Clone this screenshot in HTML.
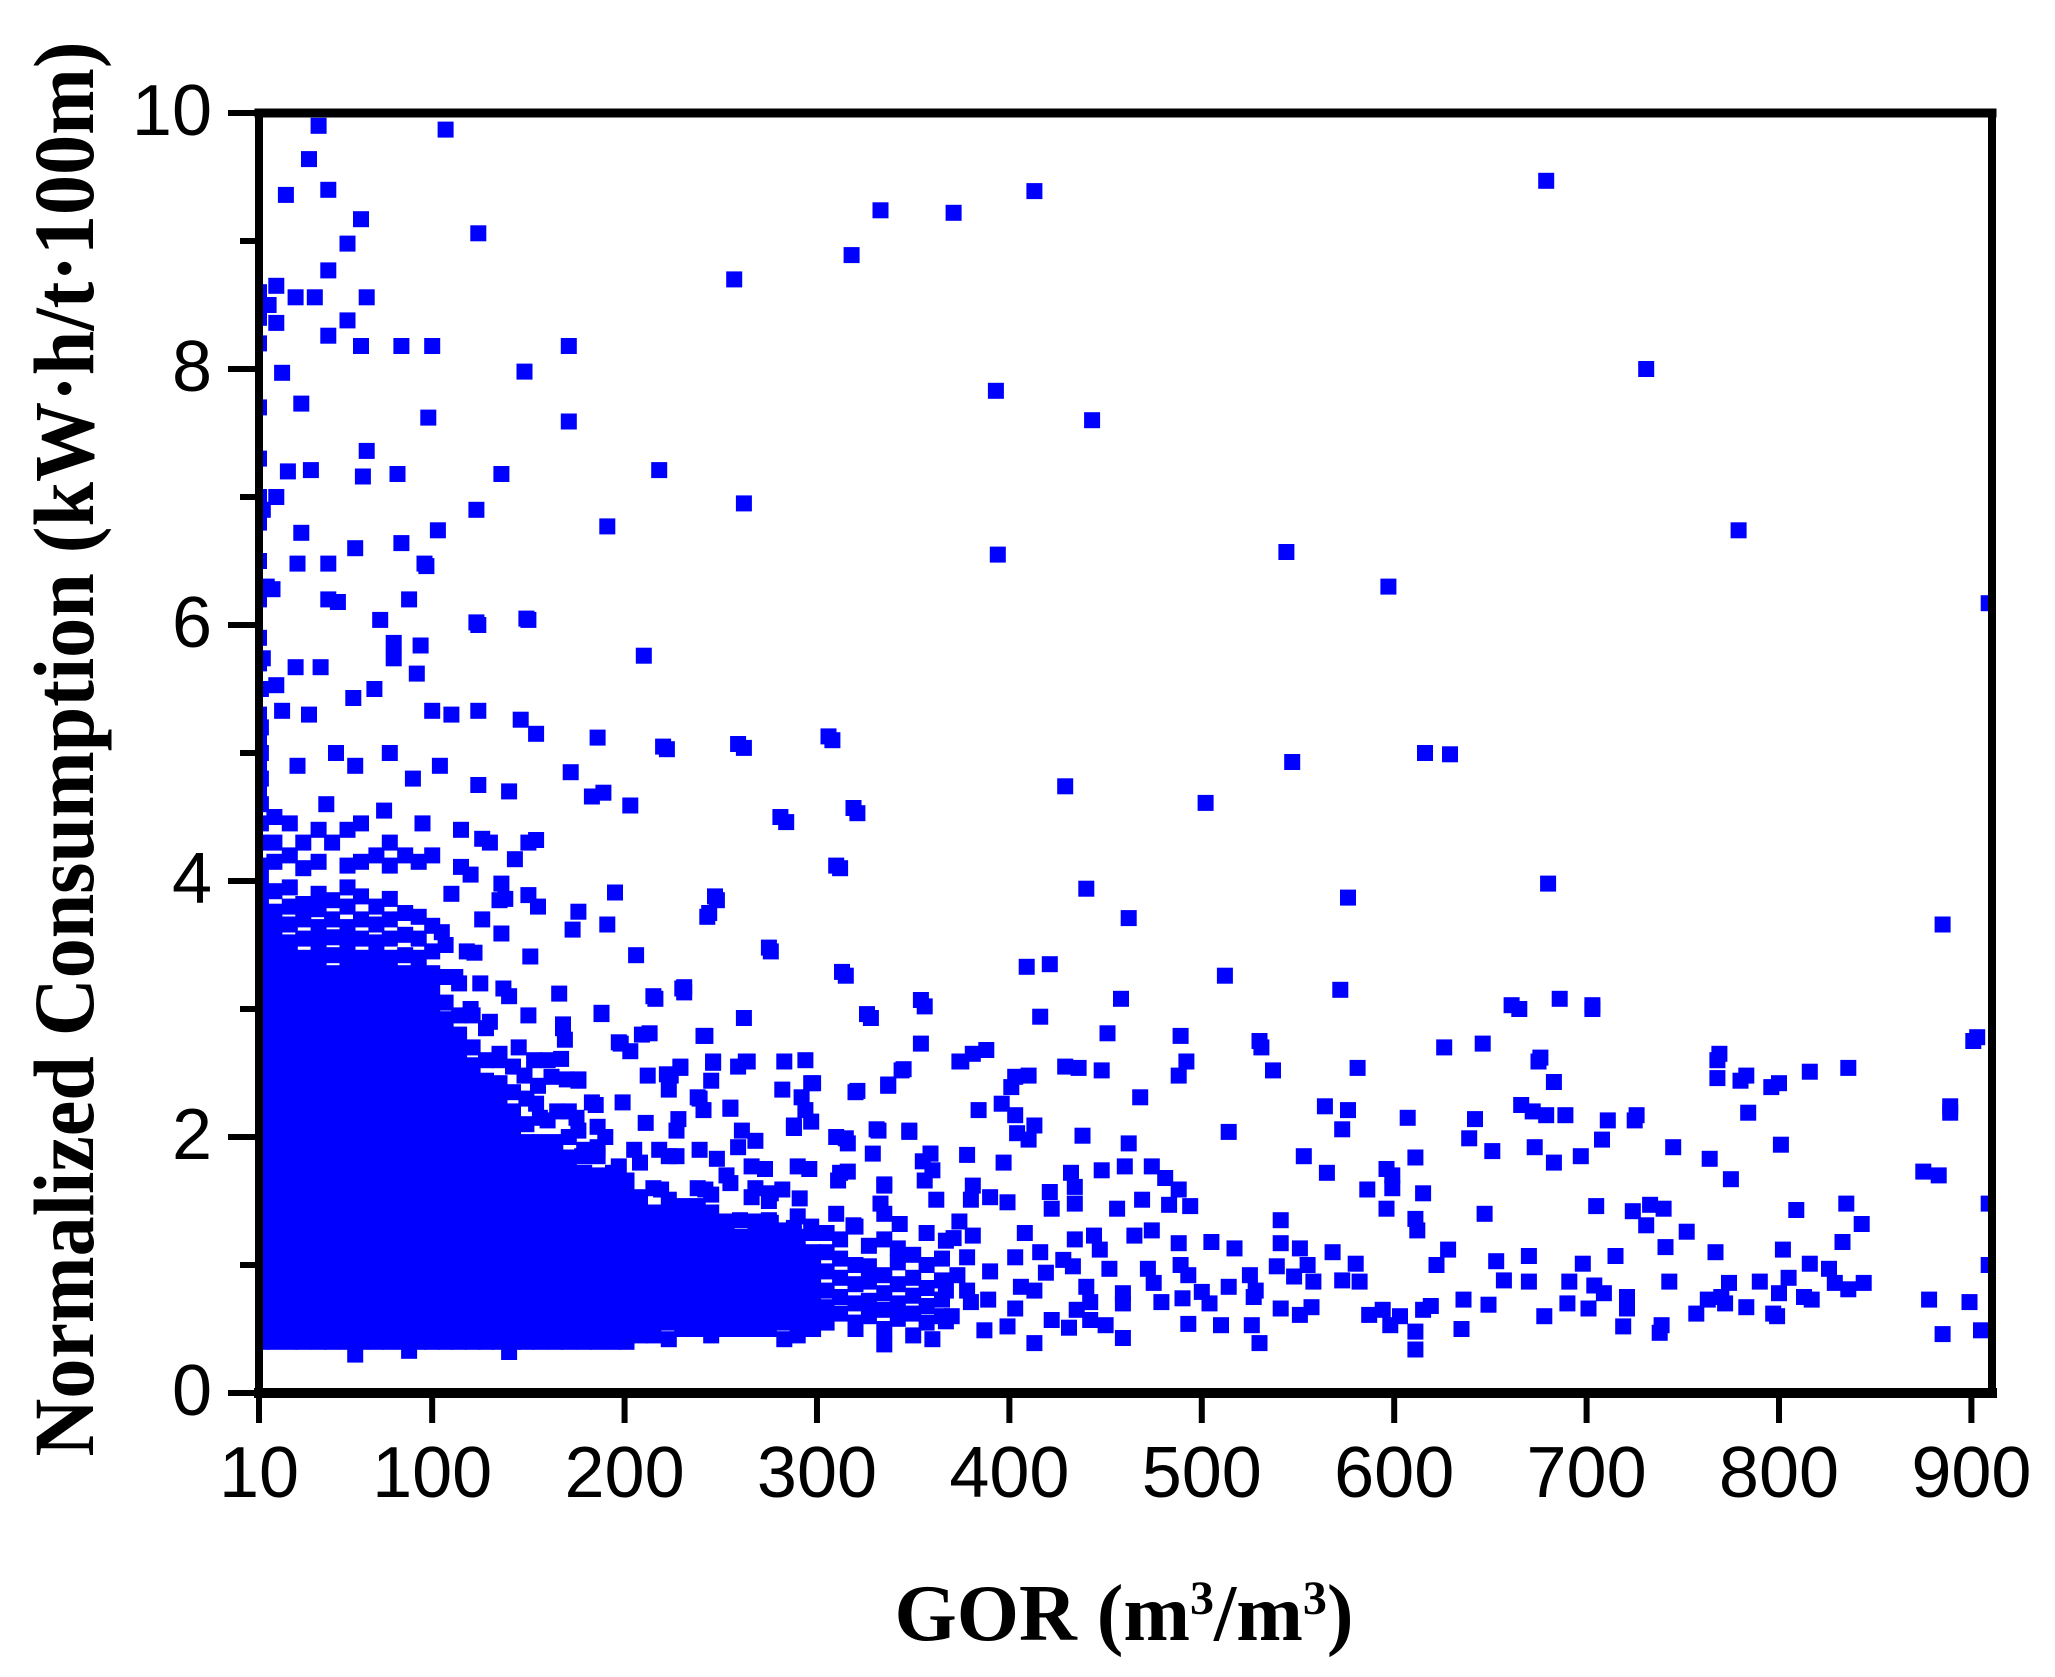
<!DOCTYPE html>
<html><head><meta charset="utf-8"><style>
html,body{margin:0;padding:0;background:#fff;}
svg{display:block;}
</style></head><body>
<svg id="chart" width="2055" height="1677" viewBox="0 0 2055 1677" xmlns="http://www.w3.org/2000/svg">
<defs><clipPath id="plotClip"><rect x="259" y="113" width="1733" height="1280"/></clipPath></defs>
<rect width="2055" height="1677" fill="#fff"/>
<g id="points" clip-path="url(#plotClip)"></g>
<g id="axes"></g>
<text x="1124" y="1640" text-anchor="middle" font-family="'Liberation Serif', serif" font-weight="bold" font-size="80">GOR (m<tspan baseline-shift="super" font-size="48">3</tspan>/m<tspan baseline-shift="super" font-size="48">3</tspan>)</text>
<text transform="translate(93,749) rotate(-90)" text-anchor="middle" font-family="'Liberation Serif', serif" font-weight="bold" font-size="86" textLength="1415" lengthAdjust="spacingAndGlyphs">Normalized Consumption (kW·h/t·100m)</text>
</svg>
<script>
const xTicks = [10,100,200,300,400,500,600,700,800,900];
const yTicks = [0,2,4,6,8,10];
const yMinorTicks = [1,3,5,7,9];

const coreRun = [0.4,0.52,0.64,0.76,0.88,1,1.12,1.24,1.36,1.48,1.6,1.72,1.84,1.96,2.08,2.2,2.32,2.44,2.56,2.68,2.8,2.92,3.04,3.16,3.28];
const lowRun = [0.4,0.52,0.64,0.76,0.88,1,1.12,1.24,1.36,1.48,1.6];

const coreGor = [11,18,26,33,41,48,56,63,71,78,86,93,100];
const coreExtra = [
[3.4,3.52,3.64,3.76,3.88,4,4.12,4.3,4.45,4.6,4.8,5,5.2,5.5],
[3.4,3.52,3.64,3.76,3.92,4.15,4.3,4.5],
[3.4,3.52,3.66,3.8,3.95,4.2,4.45],
[3.4,3.55,3.7,3.82,4.1,4.3],
[3.4,3.52,3.64,3.78,3.9,4.15,4.4],
[3.42,3.56,3.7,3.85,4.3],
[3.4,3.52,3.64,3.8,3.95,4.12,4.4],
[3.4,3.55,3.7,3.88,4.15,4.45],
[3.4,3.52,3.66,3.8,4.2],
[3.4,3.55,3.7,3.86,4.12,4.3],
[3.42,3.58,3.75,4.2],
[3.4,3.55,3.72,4.15],
[3.45,3.65]
];

const midGor = [107,114,121,128,135,142];
const midCons = [
[1.72,1.84,1.96,2.08,2.2,2.32,2.44,2.56,2.68,2.8,2.92,3.05,3.25,3.5],
[1.72,1.84,1.96,2.08,2.2,2.32,2.44,2.56,2.68,2.8,2.95,3.2],
[1.72,1.84,1.96,2.08,2.2,2.32,2.44,2.56,2.7,2.95],
[1.72,1.84,1.96,2.08,2.2,2.32,2.44,2.6,2.85],
[1.72,1.84,1.96,2.08,2.2,2.32,2.42,2.65],
[1.72,1.84,1.96,2.08,2.2,2.35,2.55]
];

const lowGor = [149,156,164,171,179,186,194,201];
const lowExtra = [
[1.72,1.84,1.96,2.1,2.3],
[1.72,1.84,1.96,2.15],
[1.72,1.84,1.96],
[1.72,1.84,2.0,2.2],
[1.72,1.9],
[1.7,1.85],
[1.72],
[1.66]
];

const bandGor = [208,215,223,230,238,245,253,260,268,275,283,290,298];
const bandCons = [
[0.45,0.57,0.69,0.81,0.93,1.05,1.17,1.29,1.41,1.53,1.8],
[0.45,0.57,0.69,0.81,0.93,1.05,1.17,1.29,1.41,1.6],
[0.42,0.55,0.67,0.79,0.91,1.03,1.15,1.27,1.39,1.51,1.85],
[0.5,0.62,0.74,0.86,0.98,1.1,1.22,1.34,1.46],
[0.5,0.62,0.74,0.86,0.98,1.1,1.22,1.34,1.46,1.6],
[0.45,0.57,0.69,0.81,0.93,1.05,1.17,1.29,1.41,1.55],
[0.5,0.62,0.74,0.86,0.98,1.1,1.22,1.34,1.7],
[0.5,0.62,0.74,0.86,0.98,1.1,1.22,1.35],
[0.5,0.62,0.74,0.86,0.98,1.1,1.22,1.34,1.6],
[0.5,0.62,0.74,0.86,0.98,1.1,1.22,1.35,1.5],
[0.42,0.55,0.67,0.79,0.91,1.03,1.15,1.27],
[0.5,0.62,0.74,0.86,0.98,1.1,1.22,1.38],
[0.5,0.62,0.74,0.86,0.98,1.1,1.25]
];

const tailGor = [305,312,320,327,335,342,350,357,365];
const tailCons = [
[0.55,0.67,0.8,0.95,1.1,1.25],
[0.62,0.75,0.9,1.05,1.2],
[0.55,0.7,0.85,1,1.3],
[0.6,0.72,0.87,0.99,1.15],
[0.5,0.65,0.78,0.92,1.2,1.4],
[0.58,0.7,0.85,1.02,1.13],
[0.62,0.76,0.9,1.08],
[0.55,0.68,0.82,1,1.25],
[0.6,0.73,0.88,1.05]
];

const edgeCons = [4.7,4.9,5.1,5.3,5.5,5.7,5.9,6.2,6.5,6.8,7,7.3,7.7,8.2,8.4,8.6];

const sparsePoints = [
[41,9.9],[107,9.87],[36,9.64],[46,9.4],[24,9.36],[63,9.17],[124,9.06],[56,8.98],[46,8.77],[19,8.65],[29,8.56],[39,8.56],[66,8.56],[15,8.5],[19,8.36],[56,8.38],[46,8.26],[63,8.18],[84,8.18],[100,8.18],[171,8.18],[22,7.97],[148,7.98],[32,7.73],[98,7.62],[171,7.59],[66,7.36],[37,7.21],[136,7.18],[82,7.18],[64,7.16],[19,7.0],[32,6.72],[84,6.64],[103,6.74],[46,6.48],[96,6.48],[17,6.28],[51,6.18],[73,6.04],[150,6.04],[124,6.0],[80,5.86],[94,5.84],[80,5.74],[92,5.62],[29,5.67],[42,5.67],[12,5.74],[19,5.53],[59,5.43],[100,5.33],[124,5.33],[22,5.33],[12,6.9],[14,6.3],[30,6.48],[46,6.2],[88,6.2],[97,6.46],[60,6.6],[25,7.2],[70,5.5],[110,5.3],[36,5.3],[50,5.0],[78,5.0],[104,4.9],[124,4.75],[140,4.7],[90,4.8],[60,4.9],[30,4.9],[45,4.6],[75,4.55],[95,4.45],[115,4.4],[130,4.3],[150,4.3],[100,4.2],[120,4.05],[110,3.9],[135,3.85],[105,3.6],[118,3.45],[125,3.2],[112,3.25],[140,3.1],[150,2.95],[130,2.9],[145,2.7],[160,2.6],[120,3.0],[135,2.6],[170,2.45],[155,2.4],[165,2.2],[175,2.15],[190,2.0],[185,2.25],
[257,8.7],[318,8.89],[333,9.24],[371,9.22],[413,9.39],[393,7.83],[443,7.6],[218,7.21],[262,6.95],[191,6.77],[394,6.55],[544,6.57],[597,6.3],[679,9.47],[731,8.0],[779,6.74],[909,6.17],[210,5.76],[308,5.1],[262,5.04],[222,5.03],[616,5.0],[629,4.99],[547,4.93],[502,4.61],[429,4.74],[321,4.53],[284,4.46],[312,4.1],[440,3.94],[680,3.98],[885,3.66],[462,3.71],[576,3.87],[248,3.85],[243,3.72],[276,3.45],[315,3.26],[512,3.26],[421,3.35],[409,3.33],[572,3.15],[231,3.13],[328,2.93],[458,3.08],[356,3.02],[665,3.0],[686,3.08],[703,3.0],[531,2.7],[626,2.7],[901,2.75],[436,2.54],[388,2.68],[675,2.59],[768,2.6],[711,2.13],[725,2.13],[576,2.21],[796,2.39],[780,2.44],[816,2.51],[599,1.7],[889,2.19],[883,1.7],[573,2.06],
[123,6.9],[149,6.05],[123,6.02],[146,5.26],[154,5.15],[186,5.12],[220,5.05],[259,5.07],[306,5.13],[172,4.85],[183,4.66],[189,4.69],[203,4.59],[281,4.5],[319,4.57],[310,4.12],[143,4.17],[154,4.32],[126,4.33],[115,4.11],[136,3.98],[138,3.86],[150,3.89],[155,3.8],[176,3.76],[195,3.91],[247,3.88],[244,3.75],[126,3.7],[136,3.59],[173,3.62],[191,3.66],[206,3.42],[275,3.48],[313,3.29],[151,3.41],[122,3.44],[137,3.16],[166,3.12],[188,2.96],[216,3.08],[230,3.16],[262,2.93],[326,2.96],[354,3.07],[354,2.73],[168,2.88],[197,2.74],[209,2.8],[241,2.79],[246,2.58],[263,2.59],[283,2.59],[294,2.6],[344,2.52],[337,2.4],[321,2.36],[297,2.42],[282,2.37],[222,2.49],[229,2.54],[212,2.48],[176,2.45],[183,2.27],[255,2.23],[238,2.31],[331,2.06],[348,2.05],[359,1.87],[315,1.99],[335,1.63],[288,2.09],[312,1.72],[355,1.81],
[231,3.17],[215,3.1],[188,2.97],[242,2.79],[213,2.81],[198,2.73],[203,2.67],[168,2.85],[169,2.76],[167,2.61],[153,2.6],[148,2.48],[162,2.47],[176,2.44],[224,2.48],[229,2.55],[246,2.59],[259,2.55],[264,2.59],[245,2.44],[298,2.42],[320,2.35],[337,2.41],[345,2.53],[374,2.59],[223,2.37],[239,2.3],[241,2.21],[255,2.22],[292,2.31],[294,2.21],[297,2.12],[288,2.07],[154,2.26],[160,2.13],[176,2.05],[186,2.08],[199,2.27],[211,2.11],[228,2.14],[227,2.05],[261,2.05],[268,1.97],[310,2.0],[316,1.95],[332,2.05],[348,2.04],[329,1.87],[359,1.87],[360,1.74],[356,1.66],[362,1.51],[311,1.66],[316,1.73],[335,1.62],[333,1.48],[290,1.77],[296,1.75],[291,1.52],[205,1.9],[218,1.9],[227,1.85],[239,1.9],[248,1.83],[259,1.92],[266,1.77],[273,1.75],[266,1.53],[276,1.56],[282,1.59],[186,1.92],[178,1.85],[197,1.77],[202,1.48],[219,1.59],[242,1.59],[255,1.64],[310,1.4],[319,1.31],[343,1.32],[367,1.19],[276,1.33],[288,1.29],[297,1.3],
[416,2.94],[451,2.81],[489,2.79],[530,2.75],[381,2.65],[375,2.59],[429,2.55],[448,2.52],[488,2.48],[492,2.59],[537,2.52],[581,2.54],[646,2.73],[676,2.62],[683,2.43],[769,2.65],[768,2.46],[783,2.48],[800,2.42],[836,2.54],[903,2.78],[661,3.03],[703,3.03],
[403,2.47],[410,2.48],[401,2.39],[396,2.26],[384,2.21],[403,2.17],[413,2.09],[404,2.03],[410,1.98],[468,2.31],[514,2.04],[564,2.24],[607,2.15],[642,2.14],[666,2.25],[672,2.2],[679,2.17],[689,2.17],[726,2.17],[784,2.19],[889,2.24],
[378,1.86],[397,1.8],[438,2.01],[462,1.95],[639,1.99],[651,1.89],[673,1.92],[683,1.8],[697,1.85],[708,1.98],[745,1.92],[764,1.83],[775,1.67],[801,1.94],[875,1.73],[611,1.84],[553,1.85],[565,1.72],[596,1.75],[460,1.77],[448,1.74],[432,1.72],[474,1.77],[481,1.68],[488,1.59],
[381,1.62],[421,1.57],[434,1.61],[586,1.59],[599,1.6],[615,1.56],[380,1.51],[390,1.53],[399,1.49],[422,1.44],[434,1.48],[456,1.44],[469,1.51],[483,1.47],[494,1.46],[596,1.44],[611,1.36],[541,1.35],[647,1.4],[705,1.46],[724,1.42],[733,1.47],[740,1.44],[731,1.31],[752,1.26],[809,1.43],[835,1.48],[843,1.32],[909,1.48],
[374,1.34],[381,1.23],[371,1.21],[408,1.25],[434,1.2],[444,1.23],[465,1.23],[474,1.27],[488,1.17],[505,1.18],[517,1.13],[541,1.17],[551,1.13],[568,1.1],[612,1.27],[628,1.12],[741,1.14],[767,1.1],[802,1.12],[833,1.18],[715,1.07],[670,1.07],
[378,1.06],[403,1.06],[416,1.1],[428,1.04],[447,1.12],[452,0.97],[472,0.97],[489,1.0],[555,1.0],[580,1.01],[622,1.0],[653,1.03],[698,1.01],[816,1.01],[826,0.97],[909,1.0],
[373,0.92],[390,0.95],[419,0.94],[433,0.99],[493,0.92],[525,0.92],[539,0.99],[548,0.91],[558,0.87],[573,0.88],[582,0.87],[657,0.88],[670,0.87],[691,0.87],[704,0.84],[743,0.87],[774,0.86],[790,0.87],[805,0.9],[829,0.86],[844,0.86],
[367,0.8],[378,0.8],[406,0.83],[413,0.8],[440,0.83],[459,0.78],[475,0.86],[500,0.79],[514,0.83],[528,0.8],[709,0.78],[721,0.75],[763,0.73],[770,0.75],[800,0.78],[813,0.75],[836,0.81],
[380,0.71],[389,0.73],[403,0.66],[435,0.65],[442,0.71],[459,0.7],[479,0.71],[490,0.74],[504,0.7],[527,0.75],[541,0.66],[557,0.67],[587,0.61],[594,0.65],[603,0.6],[615,0.65],[619,0.68],[636,0.73],[649,0.69],[678,0.6],[690,0.7],[701,0.66],[721,0.66],[757,0.62],[772,0.7],[783,0.67],[797,0.62],[817,0.73],[878,0.73],[899,0.71],
[367,0.56],[387,0.49],[399,0.52],[422,0.57],[431,0.51],[442,0.57],[450,0.53],[459,0.43],[413,0.39],[493,0.54],[510,0.53],[526,0.53],[530,0.39],[551,0.61],[598,0.53],[611,0.48],[611,0.34],[635,0.5],[719,0.52],[739,0.53],[738,0.47],[799,0.6],[885,0.46],[905,0.49],
[335,0.38],[290,0.45],[320,0.5],[350,0.45],[370,0.6],[360,0.42],[60,0.3],[140,0.32],[88,0.33]
];

const X0 = 259, X1 = 1992, Y0 = 1393, Y1 = 113;
const xMin = 10, xMax = 910.7, yMin = 0, yMax = 10;
const sx = v => X0 + (v - xMin) / (xMax - xMin) * (X1 - X0);
const sy = v => Y0 - (v - yMin) / (yMax - yMin) * (Y0 - Y1);
const NS = 'http://www.w3.org/2000/svg';
const pts = document.getElementById('points');
const axes = document.getElementById('axes');
const M = 16;

function addPoint(g, c) {
  const r = document.createElementNS(NS, 'rect');
  r.setAttribute('x', (sx(g) - M / 2).toFixed(1));
  r.setAttribute('y', (sy(c) - M / 2).toFixed(1));
  r.setAttribute('width', M);
  r.setAttribute('height', M);
  r.setAttribute('fill', '#0000ff');
  
  
  pts.appendChild(r);
}
function addColumns(gs, cs) {
  gs.forEach((g, i) => cs[i].forEach(c => addPoint(g, c)));
}
coreGor.forEach((g, i) => { coreRun.forEach(c => addPoint(g, c)); coreExtra[i].forEach(c => addPoint(g, c)); });
midGor.forEach(g => lowRun.forEach(c => addPoint(g, c)));
addColumns(midGor, midCons);
lowGor.forEach((g, i) => { lowRun.forEach(c => addPoint(g, c)); lowExtra[i].forEach(c => addPoint(g, c)); });
addColumns(bandGor, bandCons);
addColumns(tailGor, tailCons);
edgeCons.forEach(c => addPoint(10, c));
sparsePoints.forEach(p => addPoint(p[0], p[1]));

function line(x1, y1, x2, y2, w, name) {
  const l = document.createElementNS(NS, 'line');
  l.setAttribute('x1', x1); l.setAttribute('y1', y1);
  l.setAttribute('x2', x2); l.setAttribute('y2', y2);
  l.setAttribute('stroke', '#000');
  l.setAttribute('stroke-width', w);
  l.setAttribute('stroke-linecap', 'square');
  
  
  axes.appendChild(l);
}
function text(x, y, s, anchor, name) {
  const t = document.createElementNS(NS, 'text');
  t.setAttribute('x', x); t.setAttribute('y', y);
  t.setAttribute('text-anchor', anchor);
  t.setAttribute('font-family', "'Liberation Sans', Arial, sans-serif");
  t.setAttribute('font-size', '72');
  t.textContent = s;
  
  
  axes.appendChild(t);
}
line(X0, Y1, X1, Y1, 9, 'top-axis-line');
line(X0, Y0, X1, Y0, 10, 'x-axis-line');
line(X0, Y1, X0, Y0, 8, 'y-axis-line');
line(X1, Y1, X1, Y0, 8, 'right-axis-line');
xTicks.forEach(v => {
  line(sx(v), Y0, sx(v), Y0 + 27, 6, 'x-tick');
  text(sx(v), 1497, String(v), 'middle', 'x-tick-label');
});
yTicks.forEach(v => {
  line(X0 - 28, sy(v), X0, sy(v), 6, 'y-tick');
  text(212, sy(v) + 22, String(v), 'end', 'y-tick-label');
});
yMinorTicks.forEach(v => {
  line(X0 - 16, sy(v), X0, sy(v), 6, 'y-minor-tick');
});
</script>
</body></html>
